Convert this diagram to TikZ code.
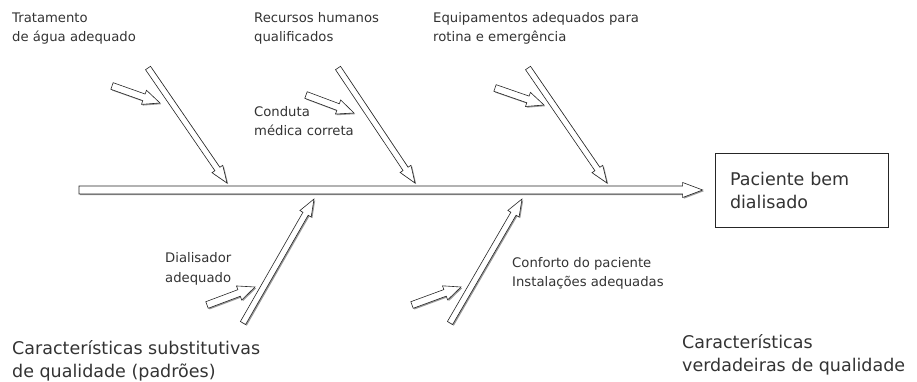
\documentclass[tikz,border=0pt]{standalone}
\usepackage{fontspec}
\setmainfont{DejaVu Sans}
\usetikzlibrary{calc}
\definecolor{txt}{HTML}{333333}
\tikzset{
  barrow/.style={draw=black!85, line width=0.6pt, fill=white, line join=miter,
    preaction={fill=black!40, transform canvas={shift={(1.2pt,-1.2pt)}}}},
  smalltxt/.style={anchor=north west, inner sep=0pt, align=left, text=txt,
    font=\fontsize{13.2}{19.5}\selectfont, execute at begin node={\rule{0pt}{10.56pt}}},
  bigtxt/.style={anchor=north west, inner sep=0pt, align=left, text=txt,
    font=\fontsize{17.5}{22.5}\selectfont, execute at begin node={\rule{0pt}{14pt}}},
  goalbox/.style={draw=black!85, line width=0.7pt, fill=white, align=left, text=txt,
    font=\fontsize{17.5}{23}\selectfont, text width=143pt, inner xsep=15pt, inner ysep=0pt,
    minimum height=74pt,
    preaction={fill=black!30, transform canvas={shift={(1.2pt,-1.2pt)}}}}
}
% #1 tail, #2 tip, #3 shaft half width, #4 head half width, #5 head length
\newcommand{\blockarrow}[5]{%
  \coordinate (bnk) at ($(#2)!#5!(#1)$);
  \draw[barrow] ($(#1)!#3!-90:(#2)$) -- ($(bnk)!#3!-90:(#2)$) -- ($(bnk)!#4!-90:(#2)$)
    -- (#2) -- ($(bnk)!#4!90:(#2)$) -- ($(bnk)!#3!90:(#2)$) -- ($(#1)!#3!90:(#2)$) -- cycle;
}
\begin{document}
\begin{tikzpicture}[x=1pt,y=-1pt]
\useasboundingbox (0,0) rectangle (917,382);

% goal box
\node[goalbox] (goal) at (801.5,190) {Paciente bem\\dialisado};

% coordinates
\coordinate (spineT) at (79,190);
\coordinate (spineH) at ($(goal.west)+(-12,0)$);
\coordinate (a1t) at (148,68);  \coordinate (a1h) at (227,183);
\coordinate (a2t) at (338,68);  \coordinate (a2h) at (415,183);
\coordinate (a3t) at (528,68);  \coordinate (a3h) at (607,183);
\coordinate (s1t) at (112,86);  \coordinate (s1h) at (160,103);
\coordinate (s2t) at (306,95);  \coordinate (s2h) at (354,113);
\coordinate (s3t) at (495,88);  \coordinate (s3h) at (544,105);
\coordinate (b1t) at (243,323); \coordinate (b1h) at (314,199);
\coordinate (b2t) at (450,323); \coordinate (b2h) at (522,199);
\coordinate (t1t) at (207,305); \coordinate (t1h) at (255,287);
\coordinate (t2t) at (412,305); \coordinate (t2h) at (461,287);

% spine
\blockarrow{spineT}{spineH}{4pt}{7.5pt}{20pt}

% small arrows
\blockarrow{s1t}{s1h}{3.5pt}{7.5pt}{17pt}
\blockarrow{s2t}{s2h}{3.5pt}{7.5pt}{17pt}
\blockarrow{s3t}{s3h}{3.5pt}{7.5pt}{17pt}
\blockarrow{t1t}{t1h}{3.5pt}{7.5pt}{17pt}
\blockarrow{t2t}{t2h}{3.5pt}{7.5pt}{17pt}

% big arrows
\blockarrow{a1t}{a1h}{3pt}{6.5pt}{17pt}
\blockarrow{a2t}{a2h}{3pt}{6.5pt}{17pt}
\blockarrow{a3t}{a3h}{3pt}{6.5pt}{17pt}
\blockarrow{b1t}{b1h}{3pt}{6.5pt}{17pt}
\blockarrow{b2t}{b2h}{3pt}{6.5pt}{17pt}

% labels
\node[smalltxt] (l1) at (12,12.2) {Tratamento\\de água adequado};
\node[smalltxt] (l2) at (254,12.2) {Recursos humanos\\qualificados};
\node[smalltxt] (l3) at (433,12.2) {Equipamentos adequados para\\rotina e emergência};
\node[smalltxt] (l4) at (254,106.2) {Conduta\\médica correta};
\node[smalltxt] (l5) at (165,252.7) {Dialisador\\adequado};
\node[smalltxt] (l6) at (512,257.2) {Conforto do paciente\\Instalações adequadas};
\node[bigtxt] (l7) at (12,340.4) {Características substitutivas\\de qualidade (padrões)};
\node[bigtxt] (l8) at (682,334.4) {Características\\verdadeiras de qualidade};
\end{tikzpicture}
\end{document}
